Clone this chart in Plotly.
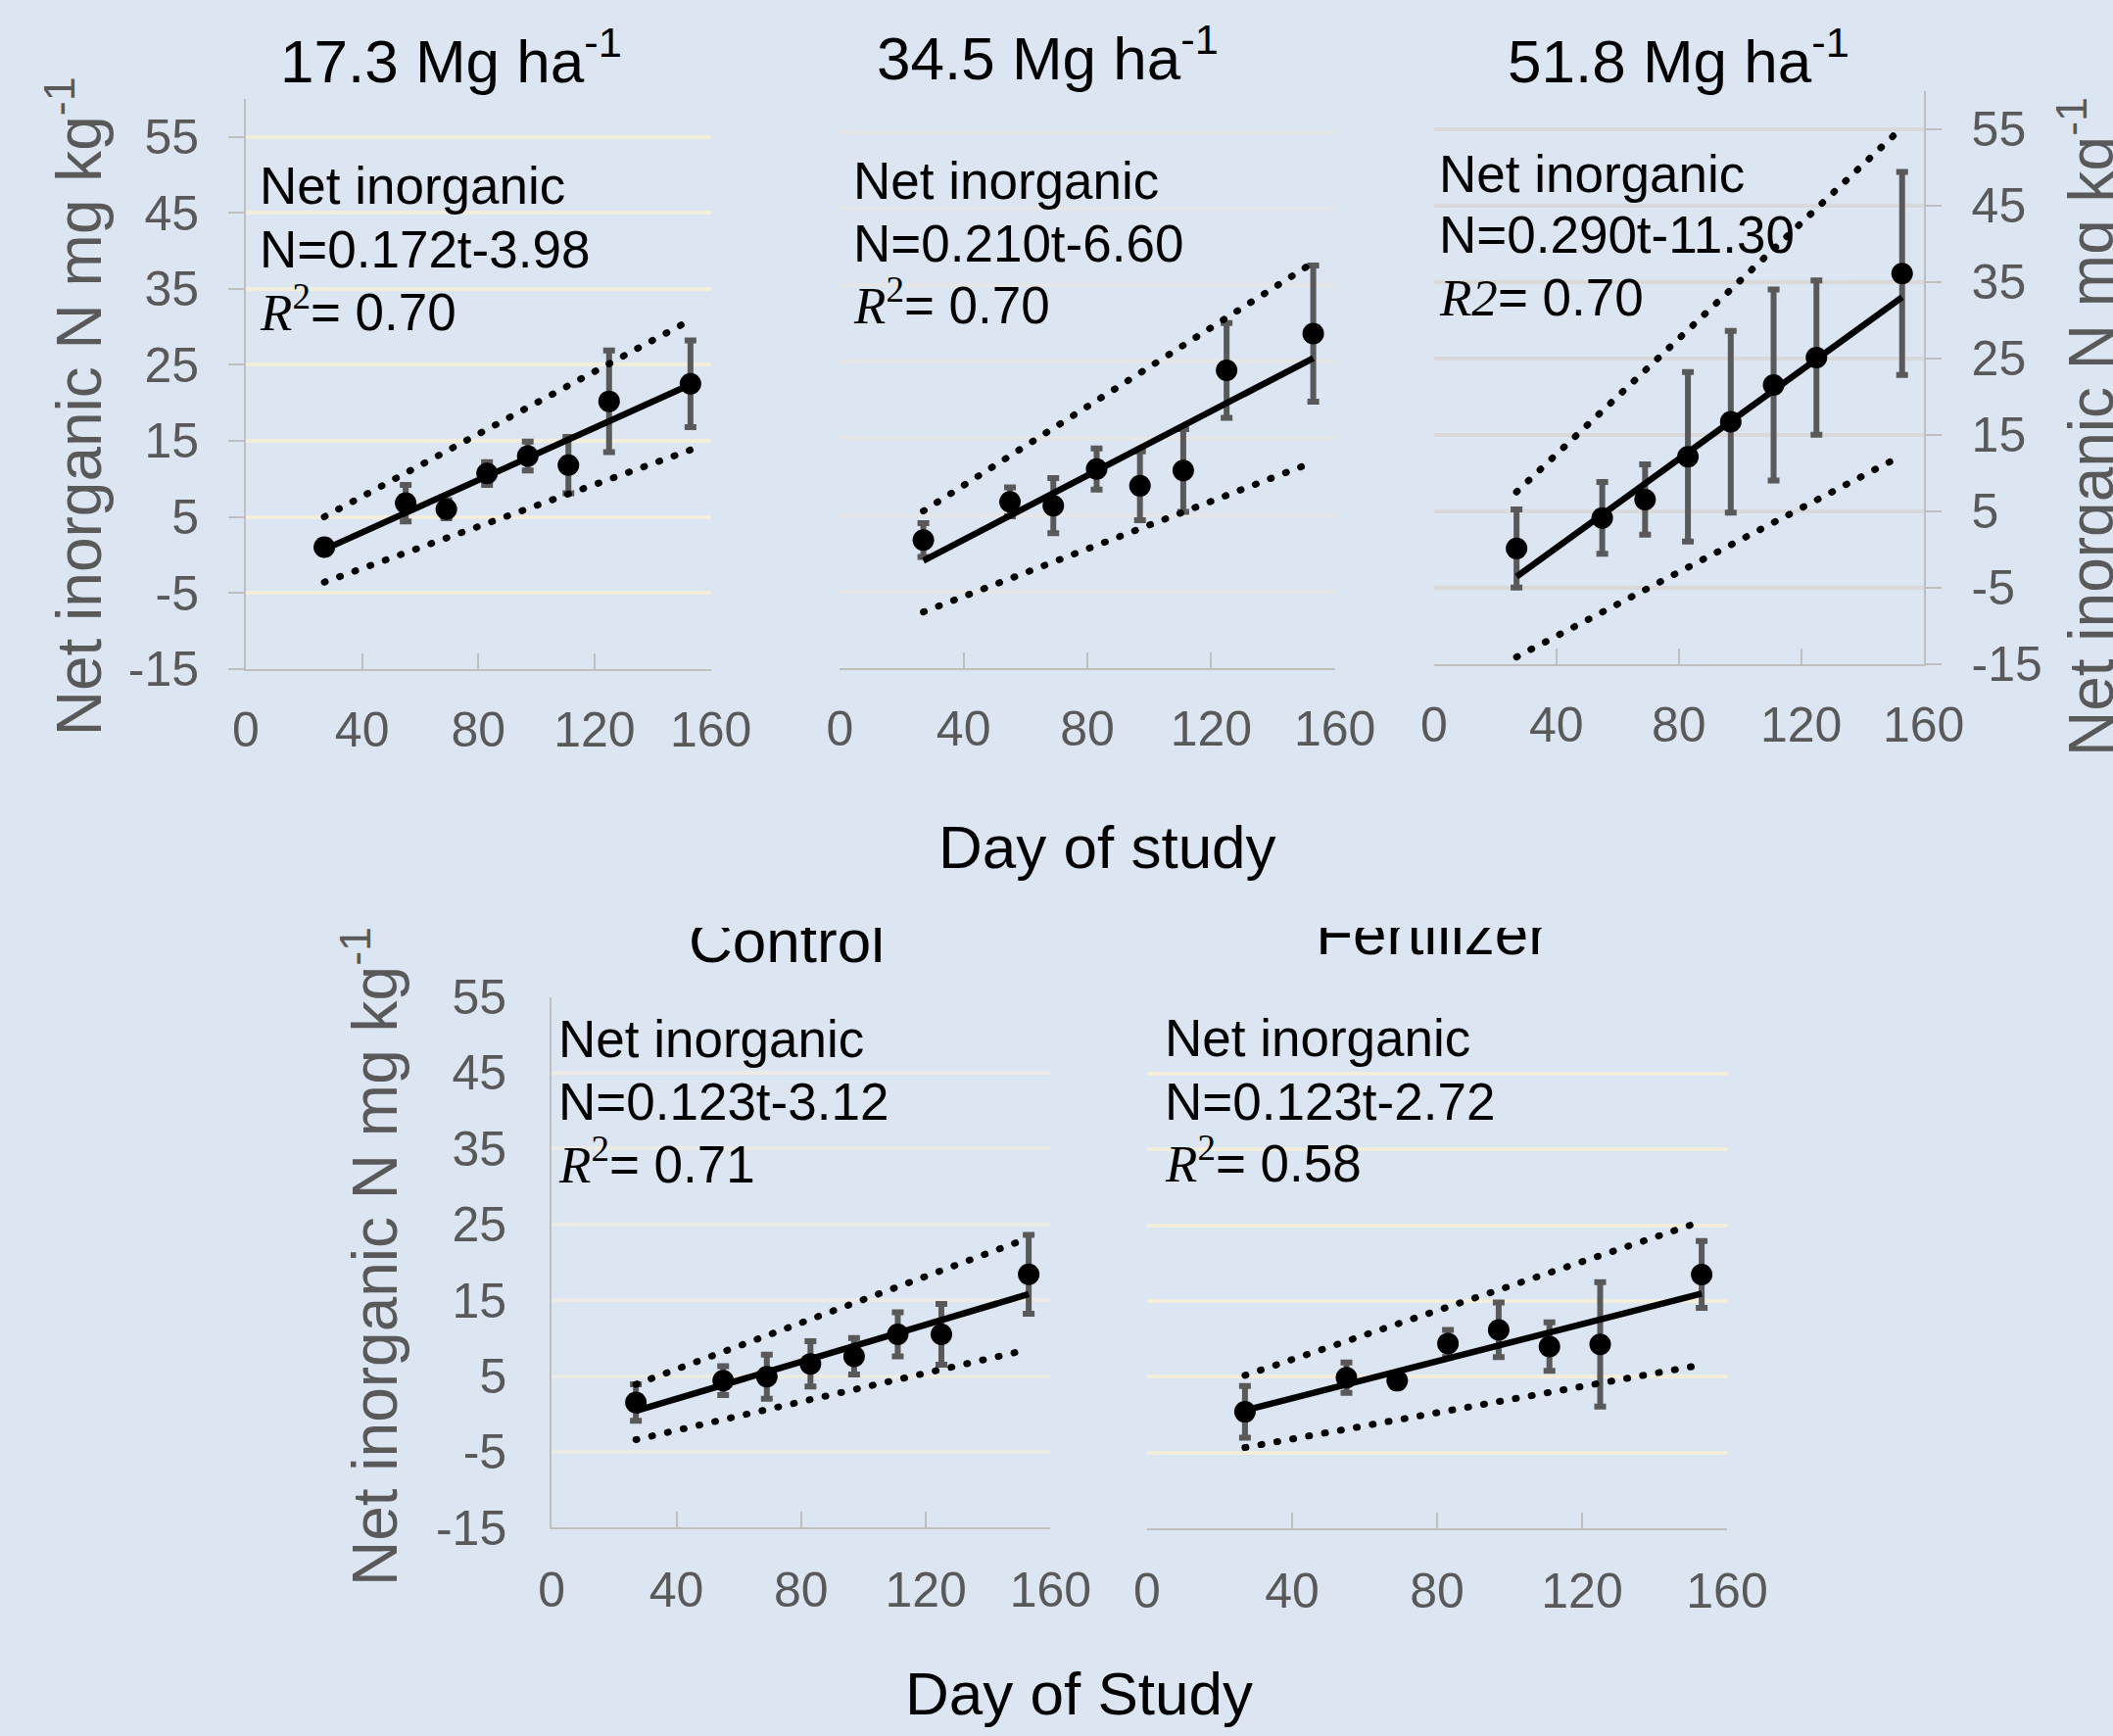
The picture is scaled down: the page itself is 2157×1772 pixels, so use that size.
import plotly.graph_objects as go

W, H = 2157, 1772
BG = "#dce6f2"
FONT = "Liberation Sans, Arial, sans-serif"
SERIF = "Liberation Serif, DejaVu Serif, serif"

# ---------------- data ----------------
days = [27, 55, 69, 83, 97, 111, 125, 153]
fit_days = [27, 153]
x_ticks = [0, 40, 80, 120, 160]
y_ticks = [-15, -5, 5, 15, 25, 35, 45, 55]
y_tick_text = ["-15", "-5", "5", "15", "25", "35", "45", "55"]

titles = ["17.3 Mg ha<sup>-1</sup>", "34.5 Mg ha<sup>-1</sup>", "51.8 Mg ha<sup>-1</sup>",
          "Control", "Fertilizer"]
eq_text = ["N=0.172t-3.98", "N=0.210t-6.60", "N=0.290t-11.30", "N=0.123t-3.12", "N=0.123t-2.72"]
r2_text = ["0.70", "0.70", "0.70", "0.71", "0.58"]

mean_173 = [1.0, 6.8, 6.0, 10.7, 13.0, 11.8, 20.2, 22.5]
err_173 = [0.8, 2.4, 1.2, 1.5, 1.9, 3.7, 6.7, 5.7]
fit_173 = [0.7, 22.4]
upper_173 = [5.0, 30.9]
lower_173 = [-3.6, 13.8]

mean_345 = [1.7, 6.7, 6.2, 11.0, 8.8, 10.8, 23.9, 28.7]
err_345 = [2.2, 1.9, 3.6, 2.7, 4.5, 5.4, 6.2, 8.9]
fit_345 = [-1.0, 25.5]
upper_345 = [5.5, 38.0]
lower_345 = [-7.7, 11.9]

mean_518 = [0.1, 4.1, 6.5, 12.1, 16.7, 21.5, 25.1, 36.1]
err_518 = [5.1, 4.7, 4.6, 11.1, 11.9, 12.5, 10.1, 13.3]
fit_518 = [-3.6, 33.0]
upper_518 = [7.5, 55.2]
lower_518 = [-14.1, 12.3]

mean_ctl = [1.5, 4.4, 4.9, 6.6, 7.6, 10.5, 10.5, 18.4]
err_ctl = [2.4, 1.9, 2.9, 3.0, 2.4, 2.9, 4.0, 5.2]
fit_ctl = [0.4, 15.8]
upper_ctl = [3.9, 23.2]
lower_ctl = [-3.4, 8.5]

mean_fert = [0.4, 4.9, 4.5, 9.4, 11.2, 9.0, 9.3, 18.5]
err_fert = [3.4, 2.0, 0.8, 1.8, 3.6, 3.2, 8.2, 4.4]
fit_fert = [0.6, 16.0]
upper_fert = [5.2, 25.5]
lower_fert = [-4.3, 6.6]

series = [
    (mean_173, err_173, fit_173, upper_173, lower_173),
    (mean_345, err_345, fit_345, upper_345, lower_345),
    (mean_518, err_518, fit_518, upper_518, lower_518),
    (mean_ctl, err_ctl, fit_ctl, upper_ctl, lower_ctl),
    (mean_fert, err_fert, fit_fert, upper_fert, lower_fert),
]

# ---------------- layout (pixel geometry) ----------------
panels = [
    dict(x=(251, 725.6), y=(101, 682.6), yr=[-15, 60], grid="#f2eedb", side="left",
         line=True, ticks="outside", labels=True, stand=20, xstand=17,
         eqx=263, base=(209, 273.6, 338)),
    dict(x=(857.3, 1362.7), y=(96.3, 681.6), yr=[-15, 60], grid="#e6e6e6", side="left",
         line=False, ticks="", labels=False, stand=20, xstand=17,
         eqx=869, base=(204, 268, 331)),
    dict(x=(1463.8, 1963.6), y=(92.8, 677.6), yr=[-15, 60], grid="#d9d9d9", side="right",
         line=True, ticks="outside", labels=True, stand=21, xstand=17,
         eqx=1467, base=(196.5, 259, 323)),
    dict(x=(563.2, 1072.4), y=(1017.6, 1559.3), yr=[-15, 55], grid="#ecebe3", side="left",
         line=True, ticks="", labels=True, stand=34, xstand=19,
         eqx=568, base=(1080, 1144, 1208)),
    dict(x=(1171, 1763), y=(1018.2, 1560.4), yr=[-15, 55], grid="#f2eedb", side="left",
         line=False, ticks="", labels=False, stand=34, xstand=19,
         eqx=1187, base=(1079, 1144, 1207)),
]

EQ_SIZE = 53
fig = go.Figure()
layout = {}
annotations = []

for i, (p, s) in enumerate(zip(panels, series)):
    n = i + 1
    xa = "x" if n == 1 else f"x{n}"
    ya = "y" if n == 1 else f"y{n}"
    xkey = "xaxis" if n == 1 else f"xaxis{n}"
    ykey = "yaxis" if n == 1 else f"yaxis{n}"
    mean, err, fit, upper, lower = s

    layout[xkey] = dict(
        domain=[p["x"][0] / W, p["x"][1] / W], range=[0, 160], anchor=ya,
        tickmode="array", tickvals=x_ticks, showgrid=False, zeroline=False,
        showline=True, linecolor="#bfbfbf", linewidth=2,
        ticks="inside", ticklen=16, tickwidth=2, tickcolor="#bfbfbf",
        tickfont=dict(size=50, color="#595959", family=FONT),
        ticklabelstandoff=p["xstand"], fixedrange=True, automargin=False,
    )
    layout[ykey] = dict(
        domain=[1 - p["y"][1] / H, 1 - p["y"][0] / H], range=p["yr"], anchor=xa,
        side=p["side"], tickmode="array", tickvals=y_ticks, ticktext=y_tick_text,
        showgrid=True, gridcolor=p["grid"], gridwidth=4, zeroline=False,
        showline=p["line"], linecolor="#bfbfbf", linewidth=2,
        ticks=p["ticks"], ticklen=16, tickwidth=2, tickcolor="#bfbfbf",
        showticklabels=p["labels"],
        tickfont=dict(size=50, color="#595959", family=FONT),
        ticklabelstandoff=p["stand"], fixedrange=True, automargin=False,
    )

    # error bars (drawn first, under lines and markers)
    fig.add_trace(go.Scatter(
        x=days, y=mean, xaxis=xa, yaxis=ya, mode="markers",
        marker=dict(size=2, color="rgba(0,0,0,0)"),
        error_y=dict(type="data", array=err, color="#595959", thickness=6, width=6),
        hoverinfo="skip", showlegend=False))
    for band in (upper, lower):
        fig.add_trace(go.Scatter(
            x=fit_days, y=band, xaxis=xa, yaxis=ya, mode="lines",
            line=dict(color="black", width=7, dash="1px,15.5px"),
            hoverinfo="skip", showlegend=False))
    fig.add_trace(go.Scatter(
        x=fit_days, y=fit, xaxis=xa, yaxis=ya, mode="lines",
        line=dict(color="black", width=6.5), hoverinfo="skip", showlegend=False))
    fig.add_trace(go.Scatter(
        x=days, y=mean, xaxis=xa, yaxis=ya, mode="markers",
        marker=dict(size=22, color="black"), showlegend=False))

    # equation text, one annotation per line placed on its baseline
    if n == 3:
        r2 = f'<span style="font-family:{SERIF};font-style:italic">R2</span>'
    else:
        r2 = (f'<span style="font-family:{SERIF};font-style:italic">R</span>'
              f'<sup><span style="font-family:{SERIF}">2</span></sup>')
    lines = ["Net inorganic", eq_text[i], f"{r2}= {r2_text[i]}"]
    for txt, b in zip(lines, p["base"]):
        annotations.append(dict(
            text=txt, xref="paper", yref="paper", x=p["eqx"] / W,
            y=1 - (b + 0.212 * EQ_SIZE + 1) / H,
            xanchor="left", yanchor="bottom", align="left", showarrow=False,
            font=dict(size=EQ_SIZE, color="black", family=FONT)))

# top panel titles
title_pos = [(460.5, 98.6), (1069, 96), (1713, 98.6)]
for t, (tx, ty) in zip(titles[:3], title_pos):
    annotations.append(dict(
        text=t, xref="paper", yref="paper", x=tx / W, y=1 - ty / H,
        xanchor="center", yanchor="bottom", showarrow=False,
        font=dict(size=62, color="black", family=FONT)))

# x-axis titles
annotations.append(dict(text="Day of study", xref="paper", yref="paper",
                        x=1130 / W, y=1 - 901 / H, xanchor="center", yanchor="bottom",
                        showarrow=False, font=dict(size=62, color="black", family=FONT)))
annotations.append(dict(text="Day of Study", xref="paper", yref="paper",
                        x=1101 / W, y=1 - 1765 / H, xanchor="center", yanchor="bottom",
                        showarrow=False, font=dict(size=62, color="black", family=FONT)))

# y-axis titles (rotated); the right one runs off the page edge as in the reference
ytitle = "Net inorganic N mg kg<sup>-1</sup>"
for xr, yc in [(119, 415.3), (421, 1283), (2173, 436)]:
    annotations.append(dict(text=ytitle, xref="paper", yref="paper",
                            x=xr / W, y=1 - yc / H, xanchor="right", yanchor="middle",
                            textangle=-90, showarrow=False,
                            font=dict(size=64, color="#595959", family=FONT)))

# bottom panel titles, clipped at their top like the reference
clip_top, clip_bot = 947, 1012
layout["xaxis6"] = dict(domain=[0, 1], range=[0, W], visible=False, fixedrange=True,
                        anchor="y6", automargin=False)
layout["yaxis6"] = dict(domain=[1 - clip_bot / H, 1 - clip_top / H], range=[clip_bot, clip_top],
                        visible=False, fixedrange=True, anchor="x6", automargin=False)
fig.add_trace(go.Scatter(
    x=[803, 1462], y=[988 - 0.35 * 62, 980 - 0.35 * 62], xaxis="x6", yaxis="y6",
    mode="text", text=titles[3:], textposition="middle center", cliponaxis=True,
    textfont=dict(size=62, color="black", family=FONT), hoverinfo="skip", showlegend=False))

fig.update_layout(
    template="none",
    width=W, height=H, autosize=False,
    margin=dict(l=0, r=0, t=0, b=0, pad=0, autoexpand=False),
    paper_bgcolor=BG, plot_bgcolor=BG,
    showlegend=False, hovermode=False,
    font=dict(family=FONT, color="black"),
    annotations=annotations,
    **layout,
)

post = """
document.body.style.margin='0';
var gd=document.getElementById('{plot_id}');
function rc(){ gd.querySelectorAll('path.js-line').forEach(function(p){
  var d=p.style.strokeDasharray; if(d && d!=='none'){ p.style.strokeLinecap='round'; } }); }
rc(); setTimeout(rc,50); setTimeout(rc,300);
"""
fig.write_html("out.html", post_script=post, config={"displayModeBar": False})
